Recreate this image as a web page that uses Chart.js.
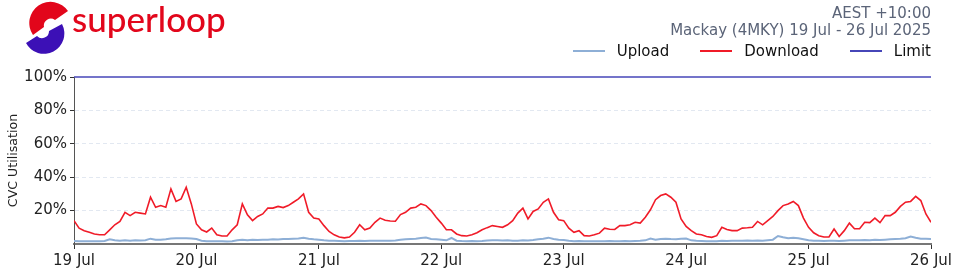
<!DOCTYPE html>
<html>
<head>
<meta charset="utf-8">
<script src="https://cdn.jsdelivr.net/npm/chart.js@4.4.1/dist/chart.umd.min.js"></script>
<style>
html,body{margin:0;padding:0;background:#fff;}
#wrap{position:relative;width:960px;height:275px;overflow:hidden;}
#c{position:absolute;left:0;top:0;}
#logo{position:absolute;left:0;top:0;}
#brand{position:absolute;left:72px;top:-3px;font-family:Lato,'Noto Sans',sans-serif;font-size:35px;color:#e2061b;font-weight:500;}
#hdr{position:absolute;left:560px;width:371px;top:5px;text-align:right;font-family:'DejaVu Sans',sans-serif;font-size:15px;line-height:17px;color:#5b6478;}
#legend{position:absolute;left:560px;width:371px;top:42px;height:18px;display:flex;justify-content:flex-end;align-items:center;font-family:'DejaVu Sans',sans-serif;font-size:15px;color:#111;line-height:18px;}
.item{display:flex;align-items:center;margin-left:31px;}
.item:first-child{margin-left:0;}
.sw{width:32px;height:2px;margin-right:12px;}
</style>
</head>
<body>
<div id="wrap">
<canvas id="c" width="960" height="275"></canvas>
<svg id="logo" width="75" height="55" viewBox="0 0 75 55">
  <path d="M68 11 A19.5 19.5 0 1 0 33 35 L44 27 A7 7 0 0 1 55 20 Z" fill="#e2061b"/>
  <path d="M62 24 A19 19 0 0 1 26 43 L37 36 A7 7 0 0 0 49 31 Z" fill="#3c10b6"/>
</svg>
<div id="brand">superloop</div>
<div id="hdr">AEST +10:00<br>Mackay (4MKY) 19 Jul - 26 Jul 2025</div>
<div id="legend"></div>
</div>
<script>
// ---- data (hourly, 19 Jul 00:00 -> 26 Jul 00:00, % CVC utilisation) ----
const dayLabels = ['19 Jul','20 Jul','21 Jul','22 Jul','23 Jul','24 Jul','25 Jul','26 Jul'];
const yTickSuffix = '%';
const seriesNames = ['Upload','Download','Limit'];

const downloadJul19 = [14,9.5,8,7,6,5.5,5.5,8.5,11.5,13.5,19,17,19,18.5,18,28,22,23,22,33,25.5,27,34,24];
const downloadJul20 = [12,8.5,7.2,9.5,5.5,4.8,4.8,8.5,11.5,24,17.5,14,16.5,18,21.5,21.5,22.5,21.8,23,25,27,30,19,15.5];
const downloadJul21 = [15,11,7.5,5.5,4.2,3.7,4.2,7,11.5,8.5,9.5,13,15.5,14.2,13.8,13.6,17.6,19,21.5,22,24,23,20,16];
const downloadJul22 = [12.5,8.5,8.5,6,5,4.8,5.5,6.7,8.5,9.8,11,10.5,10,11.5,14,18.5,21.5,15,19.5,21,25,27,19,14.5];
const downloadJul23 = [14,9.5,7,8,5,4.8,5.5,6.5,9.5,8.8,8.7,11,11,11.5,13,12.5,16,20.5,26.5,29,30,28,25,15];
const downloadJul24 = [10.5,8,6,5.5,4.5,4,5,10,8.7,8,8,9.5,9.7,10,13.5,11.5,14,16.5,20,23,24,25.5,23,15.5];
const downloadJul25 = [10,6.7,5,4.2,4.2,9,4.5,8,12.5,9.1,9.1,13,12.8,15.5,12.8,17,17,19,22.5,25,25.5,28.5,26,18,13];

const uploadJul19 = [1.8,1.7,1.6,1.6,1.6,1.7,1.8,2.8,2.2,2.0,2.2,2.0,2.3,2.1,2.3,3.2,2.6,2.5,2.8,3.3,3.4,3.5,3.4,3.3];
const uploadJul20 = [3.0,2.0,1.7,1.7,1.6,1.6,1.5,1.7,2.2,2.5,2.3,2.5,2.4,2.6,2.5,2.8,2.7,3.0,3.0,3.2,3.3,3.8,3.2,2.8];
const uploadJul21 = [2.6,2.2,2.0,1.9,1.8,1.7,1.8,1.8,2.0,1.8,1.9,2.0,2.0,1.9,2.0,2.1,2.5,2.8,3.0,3.2,3.6,3.9,3.0,2.8];
const uploadJul22 = [2.6,2.2,3.6,2.0,1.8,1.7,1.8,1.7,1.8,2.1,2.3,2.3,2.1,2.2,2.0,2.0,2.2,2.1,2.4,2.8,3.2,3.8,3.0,2.6];
const uploadJul23 = [2.4,2.0,1.7,1.8,1.7,1.6,1.7,1.6,1.7,1.8,1.7,1.7,1.8,1.7,1.8,1.9,2.2,3.3,2.6,3.0,3.2,3.0,2.9,3.2];
const uploadJul24 = [3.3,2.2,1.9,1.8,1.7,1.6,1.6,2.0,1.8,1.9,2.0,2.0,2.1,2.0,2.1,2.0,2.3,2.6,4.8,4.0,3.4,3.8,3.4,2.8];
const uploadJul25 = [2.2,2.0,1.9,1.8,1.9,2.0,1.8,2.0,2.2,2.3,2.2,2.4,2.3,2.5,2.4,2.6,2.8,3.0,3.2,3.5,4.5,3.8,3.2,3.2,3.0];

const limitValue = 100;
const yTicks = [0,20,40,60,80,100];

// ---- build ----
const download = [].concat(downloadJul19,downloadJul20,downloadJul21,downloadJul22,downloadJul23,downloadJul24,downloadJul25);
const upload = [].concat(uploadJul19,uploadJul20,uploadJul21,uploadJul22,uploadJul23,uploadJul24,uploadJul25);
const hoursPerDay = 24;
const lastHour = (dayLabels.length - 1) * hoursPerDay;
const limit = [limitValue, limitValue];

const COLORS = {Upload:'#8eafd6', Download:'#f01b28', Limit:'#4646b8'};

const leg = document.getElementById('legend');
seriesNames.forEach(n => {
  const it = document.createElement('div'); it.className = 'item';
  const sw = document.createElement('div'); sw.className = 'sw'; sw.style.background = COLORS[n];
  const tx = document.createElement('span'); tx.textContent = n;
  it.appendChild(sw); it.appendChild(tx); leg.appendChild(it);
});

const tickFont = {family:'DejaVu Sans', size:15};
const clear = 'rgba(0,0,0,0)';

new Chart(document.getElementById('c'), {
  type: 'line',
  data: {
    datasets: [
      {label:'Limit', data: limit.map((v,i)=>({x:i*lastHour, y:v})), borderColor:COLORS.Limit, borderWidth:1.4, pointRadius:0, order:3, clip:{left:0, top:2, right:0, bottom:0}},
      {label:'Upload', data: upload.map((v,i)=>({x:i, y:v})), borderColor:COLORS.Upload, borderWidth:2, pointRadius:0, order:2},
      {label:'Download', data: download.map((v,i)=>({x:i, y:v})), borderColor:COLORS.Download, borderWidth:1.6, pointRadius:0, order:1}
    ]
  },
  options: {
    responsive:false, animation:false, devicePixelRatio:1,
    layout:{padding:{top:77, right:29, bottom:0, left:0}},
    plugins:{legend:{display:false}, title:{display:false}, tooltip:{enabled:false}},
    elements:{line:{tension:0}, point:{radius:0}},
    scales:{
      x:{
        type:'linear', min:0, max:lastHour,
        afterFit: s => { s.height = 31; },
        afterBuildTicks: s => { s.ticks = dayLabels.map((d,i)=>({value:i*hoursPerDay})); },
        ticks:{autoSkip:false, maxRotation:0, callback:v=>dayLabels[Math.round(v/hoursPerDay)], font:tickFont, color:'#222', padding:3},
        grid:{color:c => (c.tick && c.tick.value===0) ? '#555' : clear, drawOnChartArea:true, drawTicks:true, tickLength:5, tickColor:'#333', tickWidth:1, lineWidth:1},
        border:{color:'#777', width:2}
      },
      y:{
        min:0, max:100,
        afterFit: s => { s.width = 74; },
        afterBuildTicks: s => { s.ticks = yTicks.map(v=>({value:v})); },
        ticks:{callback:v=> v===0 ? '' : v + yTickSuffix, font:tickFont, color:'#222', padding:3},
        grid:{
          color: c => (c.tick && (c.tick.value===0 || c.tick.value===100)) ? clear : '#e2e8f1',
          tickColor: c => (c.tick && c.tick.value===0) ? clear : '#333',
          tickLength:4, lineWidth:1
        },
        border:{color:'#555', width:1, dash:[4,3]},
        title:{display:true, text:'CVC Utilisation', font:{family:'DejaVu Sans', size:12.6}, color:'#222', padding:{top:6, bottom:0}}
      }
    }
  }
});
</script>
</body>
</html>
